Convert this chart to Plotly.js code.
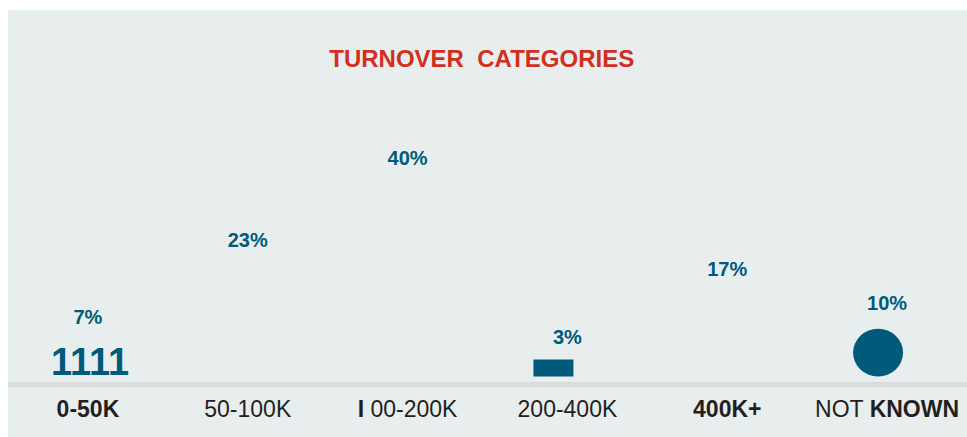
<!DOCTYPE html>
<html>
<head>
<meta charset="utf-8">
<script src="https://cdn.plot.ly/plotly-3.0.1.min.js"></script>
<style>
  html, body { margin: 0; padding: 0; background: #ffffff; width: 967px; height: 437px; overflow: hidden; }
  #chart { position: absolute; left: 8px; top: 10px; width: 959px; height: 427px; }
</style>
</head>
<body>
<div id="chart"></div>
<script>
// ---- data ----
const categories = ['0-50K', '50-100K', '100-200K', '200-400K', '400K+', 'NOT KNOWN'];
const tickLabels = ['<b>0-50K</b>', '50-100K', '<b>I</b> 00-200K', '200-400K', '<b>400K+</b>', 'NOT <b>KNOWN</b>'];
const shares = [7, 23, 40, 3, 17, 10];
const shareLabels = ['7%', '23%', '40%', '3%', '17%', '10%'];

const teal = '#005B7B';

const trace = {
  type: 'scatter',
  mode: 'text',
  x: categories,
  y: shares,
  text: shareLabels,
  textposition: 'middle center',
  textfont: { family: 'Liberation Sans, Arial, sans-serif', size: 20, color: teal, weight: 700 },
  hoverinfo: 'skip',
  showlegend: false
};

const layout = {
  width: 959,
  height: 427,
  margin: { l: 0, r: 0, t: 90, b: 55 },
  paper_bgcolor: '#E8EEEE',
  plot_bgcolor: 'rgba(0,0,0,0)',
  showlegend: false,
  hovermode: false,
  title: {
    text: 'TURNOVER\u00A0 CATEGORIES',
    font: { family: 'Liberation Sans, Arial, sans-serif', size: 24, color: '#D22F1F', weight: 700 },
    x: 0.494, xref: 'paper', xanchor: 'center',
    y: 0.887, yref: 'container', yanchor: 'middle'
  },
  xaxis: {
    type: 'category',
    categoryorder: 'array',
    categoryarray: categories,
    range: [-0.5, 5.5],
    tickvals: categories,
    ticktext: tickLabels,
    showgrid: false,
    zeroline: false,
    showline: true,
    linecolor: '#D9DBDC',
    linewidth: 5,
    ticks: '',
    ticklabelstandoff: 2,
    tickfont: { family: 'Liberation Sans, Arial, sans-serif', size: 23, color: '#231F20' },
    fixedrange: true
  },
  yaxis: {
    visible: false,
    range: [-5.98, 52.42],
    fixedrange: true
  },
  annotations: [
    {
      x: '0-50K', y: -1.78, xref: 'x', yref: 'y',
      text: '<b>1111</b>', showarrow: false, xshift: 2,
      font: { family: 'Liberation Sans, Arial, sans-serif', size: 38, color: teal },
      xanchor: 'center', yanchor: 'middle'
    }
  ],
  shapes: [
    {
      type: 'rect', xref: 'x', yref: 'y', xsizemode: 'pixel', xanchor: 3,
      x0: -34, x1: 6, y0: -4.86, y1: -1.34,
      fillcolor: teal, line: { width: 0 }, layer: 'above'
    },
    {
      type: 'circle', xref: 'x', yref: 'y', xsizemode: 'pixel', xanchor: 5,
      x0: -34, x1: 16, y0: -4.86, y1: 5.06,
      fillcolor: teal, line: { width: 0 }, layer: 'above'
    }
  ]
};

Plotly.newPlot('chart', [trace], layout, { displayModeBar: false, staticPlot: true });
</script>
</body>
</html>
